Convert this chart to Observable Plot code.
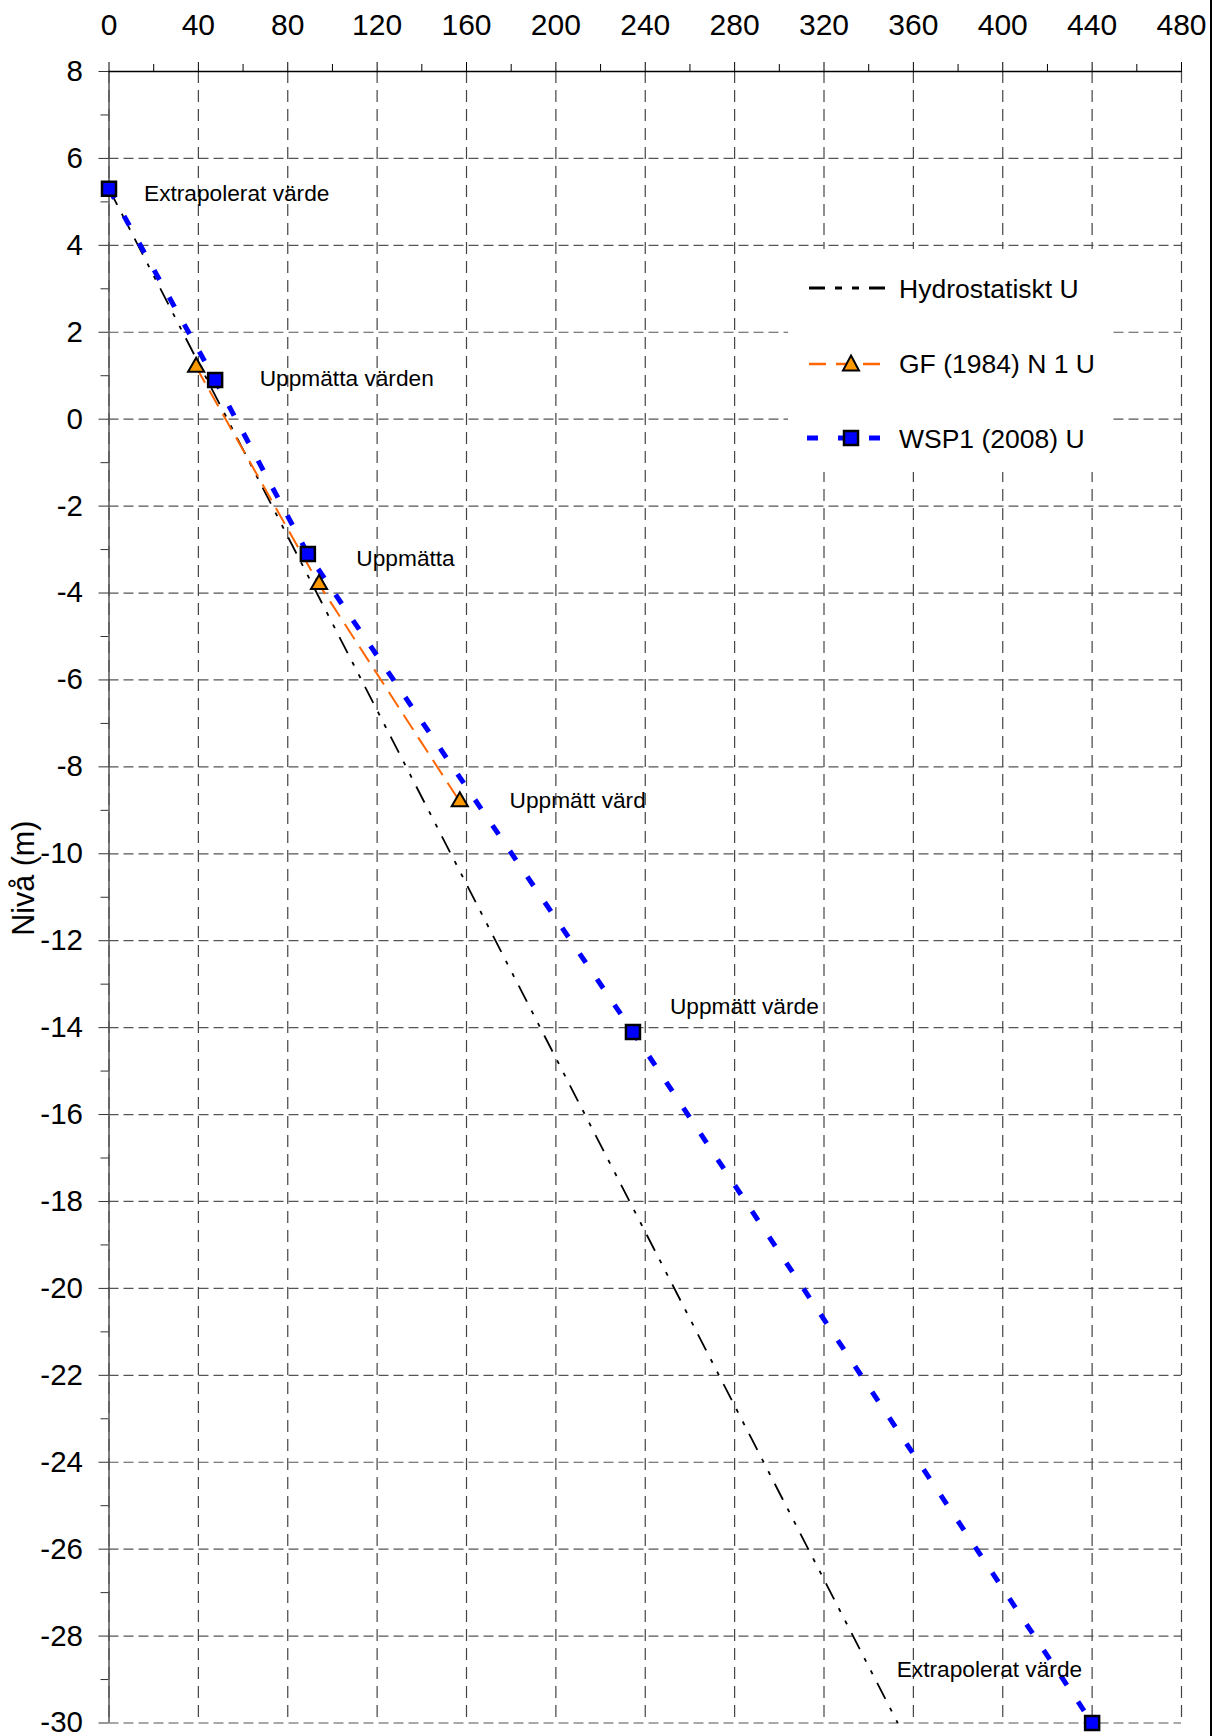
<!DOCTYPE html>
<html>
<head>
<meta charset="utf-8">
<script src="https://cdn.jsdelivr.net/npm/d3@7"></script>
<script src="https://cdn.jsdelivr.net/npm/@observablehq/plot@0.6"></script>
<style>
  html, body { margin: 0; padding: 0; background: white; }
  #wrap { position: relative; width: 1221px; height: 1736px; overflow: hidden; font-family: "Liberation Sans", Arial, sans-serif; }
  #legend { position: absolute; left: 788px; top: 249px; width: 325px; height: 223px; background: white; }
  #rborder { position: absolute; left: 1210px; top: 0; width: 2px; height: 1736px; background: black; }
</style>
</head>
<body>
<div id="wrap"><div id="rborder"></div></div>
<script>
// ---- tick values ----
const xTicks = [0, 40, 80, 120, 160, 200, 240, 280, 320, 360, 400, 440, 480];
const xMinorTicks = [20, 60, 100, 140, 180, 220, 260, 300, 340, 380, 420, 460];
const yTicks = [8, 6, 4, 2, 0, -2, -4, -6, -8, -10, -12, -14, -16, -18, -20, -22, -24, -26, -28, -30];
const yMinorTicks = [7, 5, 3, 1, -1, -3, -5, -7, -9, -11, -13, -15, -17, -19, -21, -23, -25, -27, -29];

// ---- series ----
const seriesNames = ["Hydrostatiskt U", "GF (1984) N 1 U", "WSP1 (2008) U"];
const hydroX = [0, 353];
const hydroY = [5.3, -30];
const gfX = [39, 94, 157];
const gfY = [1.2, -3.8, -8.8];
const wspX = [0, 47.5, 89, 234.5, 440];
const wspY = [5.3, 0.9, -3.1, -14.1, -30];

// ---- annotation texts ----
const noteTexts = ["Extrapolerat värde", "Uppmätta värden", "Uppmätta", "Uppmätt värd", "Uppmätt värde", "Extrapolerat värde"];
const yLabel = "Nivå (m)";

const toRows = (xs, ys) => xs.map((x, i) => ({x, y: ys[i]}));
const hydro = toRows(hydroX, hydroY);
const gf = toRows(gfX, gfY);
const wsp = toRows(wspX, wspY);

const fmt = (d) => String(d); // plain hyphen-minus as in the original
const noteFont = 22.7;
const note = (row, text, opts) => Plot.text([row], {x: "x", y: "y", text: () => text, fontSize: noteFont, fill: "black", lineAnchor: "middle", textAnchor: "start", ...opts});

const chart = Plot.plot({
  width: 1221,
  height: 1736,
  marginLeft: 108.5,
  marginRight: 40,
  marginTop: 71,
  marginBottom: 13.5,
  style: {fontFamily: "'Liberation Sans', Arial, sans-serif", background: "white", color: "black", overflow: "visible"},
  x: {domain: [xTicks[0], xTicks[xTicks.length - 1]]},
  y: {domain: [yTicks[yTicks.length - 1], yTicks[0]]},
  marks: [
    Plot.gridY(yTicks, {stroke: "#555", strokeOpacity: 1, strokeWidth: 1.2, strokeDasharray: "10 5"}),
    Plot.gridX(xTicks, {stroke: "#444", strokeOpacity: 1, strokeWidth: 1.2, strokeDasharray: "12 7"}),
    Plot.ruleX([xTicks[0]], {stroke: "#555", strokeWidth: 1.5}),
    Plot.ruleY([yTicks[0]], {stroke: "black", strokeWidth: 1.5}),
    Plot.axisX(xTicks, {anchor: "top", tickSize: 10, tickPadding: 27, fontSize: 30, label: null, stroke: "black", tickFormat: fmt}),
    Plot.axisX(xMinorTicks, {anchor: "top", tickSize: 8, tickFormat: () => "", label: null, stroke: "black"}),
    Plot.axisY(yTicks, {anchor: "left", tickSize: 10, tickPadding: 16, fontSize: 29.5, label: null, stroke: "#333", tickFormat: fmt}),
    Plot.axisY(yMinorTicks, {anchor: "left", tickSize: 8, tickFormat: () => "", label: null, stroke: "#333"}),
    Plot.text([yLabel], {frameAnchor: "left", rotate: -90, dx: -84.5, dy: -19, fontSize: 30.5, textAnchor: "middle", lineAnchor: "middle", fill: "black"}),
    Plot.line(hydro, {x: "x", y: "y", stroke: "black", strokeWidth: 1.8, strokeDasharray: "18 10 4 10 4 10", strokeLinecap: "butt"}),
    Plot.line(gf, {x: "x", y: "y", stroke: "#ff6600", strokeWidth: 2, strokeDasharray: "18 9", strokeLinecap: "butt"}),
    Plot.line(wsp, {x: "x", y: "y", stroke: "#0000ff", strokeWidth: 5, strokeDasharray: "11 20", strokeLinecap: "butt"}),
    Plot.dot(gf, {x: "x", y: "y", symbol: "triangle", r: 6, fill: "#ff9900", stroke: "black", strokeWidth: 2}),
    Plot.dot(wsp, {x: "x", y: "y", symbol: "square", r: 7.9, fill: "#0000ff", stroke: "black", strokeWidth: 2.5}),
    note(wsp[0], noteTexts[0], {dx: 35, dy: 5}),
    note(wsp[1], noteTexts[1], {dx: 44.6, dy: -1.4}),
    note(wsp[2], noteTexts[2], {dx: 48.5, dy: 4.7}),
    note(gf[2], noteTexts[3], {dx: 49.8, dy: -1}),
    note(wsp[3], noteTexts[4], {dx: 37, dy: -25}),
    note(wsp[4], noteTexts[5], {dx: -10, dy: -53, textAnchor: "end"})
  ]
});
const wrap = document.getElementById("wrap");
wrap.insertBefore(chart, wrap.firstChild);

// ---- legend (inside plot area, top right) ----
const legend = document.createElement("div");
legend.id = "legend";
legend.innerHTML = `
<svg width="325" height="223" style="font-family:'Liberation Sans', Arial, sans-serif">
  <line x1="21" x2="98" y1="39" y2="39" stroke="black" stroke-width="3" stroke-dasharray="16 10 7 10 7 10"/>
  <text x="111" y="49" font-size="26.5">${seriesNames[0]}</text>
  <line x1="21" x2="101" y1="115" y2="115" stroke="#ff6600" stroke-width="2.5" stroke-dasharray="17 10"/>
  <polygon points="63,106.5 71,121.5 55,121.5" fill="#ff9900" stroke="black" stroke-width="2" stroke-linejoin="miter"/>
  <text x="111" y="124" font-size="26.5">${seriesNames[1]}</text>
  <line x1="19" x2="98" y1="189" y2="189" stroke="#0000ff" stroke-width="5" stroke-dasharray="11 20"/>
  <rect x="56" y="182" width="14" height="14" fill="#0000ff" stroke="black" stroke-width="2.5"/>
  <text x="111" y="199" font-size="26.5">${seriesNames[2]}</text>
</svg>`;
wrap.appendChild(legend);
</script>
</body>
</html>
